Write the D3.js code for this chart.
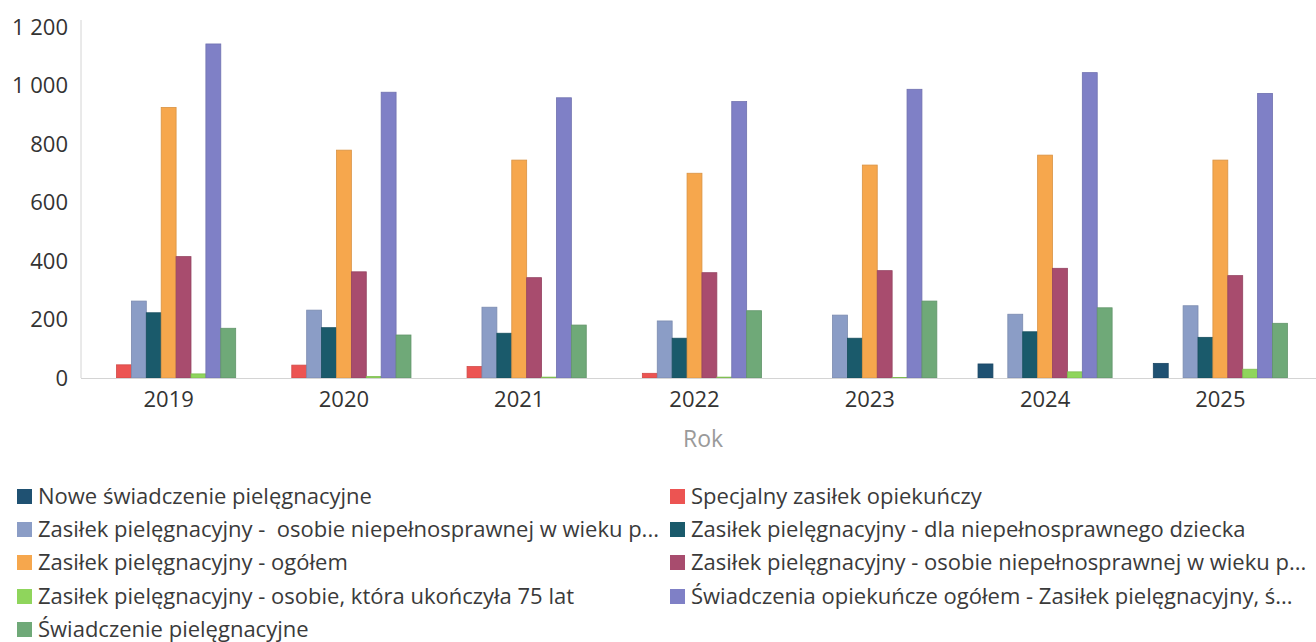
<!DOCTYPE html>
<html>
<head>
<meta charset="utf-8">
<script src="https://cdn.jsdelivr.net/npm/d3@7"></script>
<style>
  html, body { margin: 0; padding: 0; background: #fff; }
  svg { display: block; font-family: "Open Sans", "Noto Sans", sans-serif; }
</style>
</head>
<body>
<svg id="chart" width="1316" height="642"></svg>
<script>
// Years on the category axis
const years = ["2019", "2020", "2021", "2022", "2023", "2024", "2025"];

// Series names, in legend / bar order
const seriesNames = [
  "Nowe świadczenie pielęgnacyjne",
  "Specjalny zasiłek opiekuńczy",
  "Zasiłek pielęgnacyjny -  osobie niepełnosprawnej w wieku p...",
  "Zasiłek pielęgnacyjny - dla niepełnosprawnego dziecka",
  "Zasiłek pielęgnacyjny - ogółem",
  "Zasiłek pielęgnacyjny - osobie niepełnosprawnej w wieku p...",
  "Zasiłek pielęgnacyjny - osobie, która ukończyła 75 lat",
  "Świadczenia opiekuńcze ogółem - Zasiłek pielęgnacyjny, ś...",
  "Świadczenie pielęgnacyjne"
];

const seriesColors = [
  "#1f5172", "#ec5452", "#8b9dc6", "#1a5a6b", "#f6a74d",
  "#a84c6e", "#8fd55c", "#7f80c6", "#6fa978"
];

// Values per series, one entry per year
const noweSwiadczenie   = [0, 0, 0, 0, 0, 48, 50];
const specjalnyZasilek  = [45, 44, 39, 16, 0, 0, 0];
const zasilekWiekP1     = [263, 232, 242, 195, 215, 218, 247];
const zasilekDziecko    = [223, 172, 153, 136, 136, 158, 139];
const zasilekOgolem     = [925, 779, 745, 700, 728, 762, 745];
const zasilekWiekP2     = [415, 363, 343, 360, 367, 375, 350];
const zasilek75         = [14, 5, 3, 3, 2, 21, 30];
const swiadczeniaOgolem = [1142, 977, 958, 945, 987, 1044, 973];
const swiadczeniePiel   = [170, 147, 181, 230, 263, 240, 187];

const seriesValues = [
  noweSwiadczenie, specjalnyZasilek, zasilekWiekP1, zasilekDziecko,
  zasilekOgolem, zasilekWiekP2, zasilek75, swiadczeniaOgolem, swiadczeniePiel
];

// Y axis tick values
const yTicks = [0, 200, 400, 600, 800, 1000, 1200];

const svg = d3.select("#chart");
const plot = { left: 81, right: 1308, top: 27, bottom: 378 };
const fontSize = 22;

const x0 = d3.scaleBand()
  .domain(years)
  .range([plot.left, plot.right])
  .paddingInner(0.235)
  .paddingOuter(0.1175);

const x1 = d3.scaleBand()
  .domain(d3.range(seriesNames.length))
  .range([0, x0.bandwidth()]);

const y = d3.scaleLinear()
  .domain([0, 1200])
  .range([plot.bottom, plot.top]);

const fmt = d3.formatLocale({ decimal: ",", thousands: "\u00a0", grouping: [3], currency: ["", ""] }).format(",d");

// Axis lines
svg.append("line")
  .attr("x1", plot.left).attr("x2", plot.left)
  .attr("y1", 20).attr("y2", plot.bottom)
  .attr("stroke", "#d4d4d4").attr("stroke-width", 1);

// Y axis labels
const yAxis = svg.append("g")
  .attr("transform", `translate(${plot.left - 13},0)`)
  .call(d3.axisLeft(y).tickValues(yTicks).tickFormat(fmt).tickSize(0).tickPadding(0));
yAxis.select(".domain").remove();
yAxis.selectAll("text")
  .attr("font-size", fontSize)
  .attr("fill", "#333")
  .attr("font-family", "'Open Sans', sans-serif");

// Bars
const groups = svg.append("g")
  .selectAll("g")
  .data(years)
  .join("g")
  .attr("transform", d => `translate(${x0(d)},0)`);

groups.selectAll("rect")
  .data((yr, yi) => seriesValues.map((vals, si) => ({ si, v: vals[yi] })))
  .join("rect")
  .filter(d => d.v > 0)
  .attr("x", d => x1(d.si))
  .attr("width", x1.bandwidth())
  .attr("y", d => y(d.v))
  .attr("height", d => y(0) - y(d.v))
  .attr("fill", d => seriesColors[d.si])
  .attr("stroke", d => d3.color(seriesColors[d.si]).darker(0.35))
  .attr("stroke-width", 0.8);

svg.append("line")
  .attr("x1", plot.left).attr("x2", 1316)
  .attr("y1", plot.bottom + 0.5).attr("y2", plot.bottom + 0.5)
  .attr("stroke", "#d4d4d4").attr("stroke-width", 1);

// X axis labels
const xAxis = svg.append("g")
  .attr("transform", `translate(0,${plot.bottom + 13})`)
  .call(d3.axisBottom(x0).tickSize(0).tickPadding(0));
xAxis.select(".domain").remove();
xAxis.selectAll("text")
  .attr("font-size", fontSize)
  .attr("fill", "#333")
  .attr("font-family", "'Open Sans', sans-serif");

// Axis title
svg.append("text")
  .attr("x", 703).attr("y", 441)
  .attr("text-anchor", "middle")
  .attr("dominant-baseline", "middle")
  .attr("font-size", 23)
  .attr("fill", "#9a9a9a")
  .text("Rok");

// Legend: two columns, filled row by row
const legend = svg.append("g");
const colX = [17, 670];
const rowY = [497, 530, 563, 597, 630];
const items = seriesNames.map((name, i) => ({
  name, color: seriesColors[i],
  x: colX[i % 2], y: rowY[Math.floor(i / 2)]
}));

legend.selectAll("text")
  .data(items)
  .join("text")
  .attr("x", d => d.x + 21)
  .attr("y", d => d.y + 1)
  .attr("dominant-baseline", "middle")
  .attr("font-size", fontSize)
  .attr("fill", "#3a3a3a")
  .style("white-space", "pre")
  .text(d => d.name);

legend.selectAll("rect")
  .data(items)
  .join("rect")
  .attr("x", d => d.x)
  .attr("y", d => d.y - 8)
  .attr("width", 15)
  .attr("height", 15)
  .attr("fill", d => d.color);
</script>
</body>
</html>
